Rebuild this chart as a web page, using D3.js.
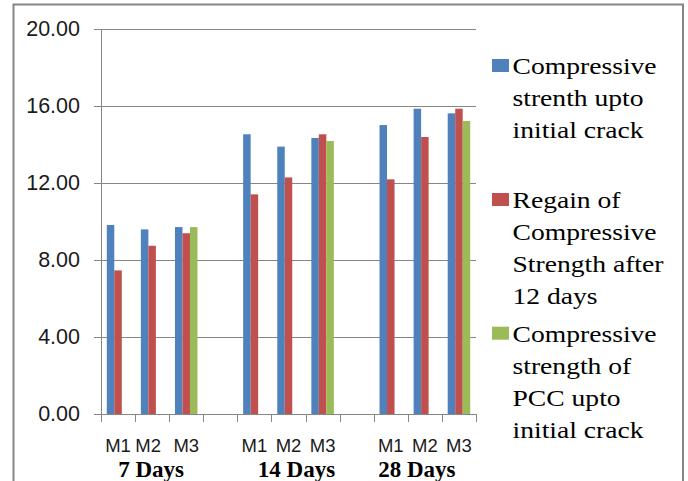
<!DOCTYPE html>
<html>
<head>
<meta charset="utf-8">
<script src="https://cdn.jsdelivr.net/npm/d3@7"></script>
<style>
  html, body { margin: 0; padding: 0; background: #fff; }
  svg { display: block; }
</style>
</head>
<body>
<svg id="chart" width="688" height="481"></svg>
<script>
// Curing ages and mix designations
const ages = ["7 Days", "14 Days", "28 Days"];
const mixes = ["M1", "M2", "M3"];

// Compressive strength values, one entry per age/mix pair (M1..M3 within each age)
const initialCrack = [9.82, 9.59, 9.71, 14.53, 13.89, 14.34, 15.01, 15.86, 15.62];
const regained12Days = [7.46, 8.74, 9.39, 11.41, 12.29, 14.53, 12.19, 14.39, 15.86];
const pccInitialCrack = [null, null, 9.71, null, null, 14.18, null, null, 15.22];

const seriesNames = [
  ["Compressive", "strenth upto", "initial crack"],
  ["Regain of", "Compressive", "Strength after", "12 days"],
  ["Compressive", "strength of", "PCC upto", "initial crack"]
];
const seriesColors = ["#4F81BD", "#C0504D", "#9BBB59"];
const yTicks = [0, 4, 8, 12, 16, 20];

const series = [initialCrack, regained12Days, pccInitialCrack];

// Category slots: three mixes per age, with an empty slot between ages
const slots = [];
ages.forEach((age, a) => {
  mixes.forEach((m, i) => slots.push({ key: age + "|" + m, age, mix: m, idx: a * 3 + i }));
  if (a < ages.length - 1) slots.push({ key: "gap" + a, age: null, mix: null, idx: null });
});

const svg = d3.select("#chart");
const plot = { left: 101, right: 476, top: 29, bottom: 414 };

// Outer chart frame
svg.append("rect")
  .attr("x", 13.5).attr("y", 4.5)
  .attr("width", 683 - 13.5).attr("height", 500)
  .attr("fill", "#fff")
  .attr("stroke", "#868686").attr("stroke-width", 2);

const x = d3.scaleBand()
  .domain(slots.map(d => d.key))
  .range([plot.left, plot.right])
  .paddingInner(0).paddingOuter(0);

const xSeries = d3.scaleBand()
  .domain(d3.range(series.length))
  .range([0, x.bandwidth()])
  .paddingInner(0).paddingOuter(0.773);

const y = d3.scaleLinear().domain([0, 20]).range([plot.bottom, plot.top]);

// Horizontal gridlines and y axis
const yAxis = d3.axisLeft(y)
  .tickValues(yTicks)
  .tickSize(7)
  .tickPadding(14)
  .tickFormat(d3.format(".2f"));

const gy = svg.append("g")
  .attr("transform", `translate(${plot.left},0)`)
  .call(yAxis);
gy.select(".domain").attr("stroke", "#868686");
gy.selectAll(".tick line").attr("stroke", "#868686");
gy.selectAll(".tick text")
  .attr("fill", "#1a1a1a")
  .style("font-family", "'Liberation Sans', Arial, sans-serif")
  .style("font-size", "21.5px");

svg.append("g")
  .selectAll("line")
  .data(yTicks.filter(t => t > 0))
  .join("line")
  .attr("x1", plot.left).attr("x2", plot.right)
  .attr("y1", d => Math.round(y(d)) + 0.5).attr("y2", d => Math.round(y(d)) + 0.5)
  .attr("stroke", "#868686").attr("stroke-width", 1);

// x axis with tick marks at slot boundaries
const gx = svg.append("g")
  .attr("transform", `translate(0,${plot.bottom})`);
gx.append("line")
  .attr("x1", plot.left).attr("x2", plot.right)
  .attr("y1", 0.5).attr("y2", 0.5)
  .attr("stroke", "#868686");
const boundaries = slots.map(d => x(d.key)).concat([plot.right]);
gx.selectAll("line.tk")
  .data(boundaries)
  .join("line")
  .attr("class", "tk")
  .attr("x1", d => Math.round(d) + 0.5).attr("x2", d => Math.round(d) + 0.5)
  .attr("y1", 0).attr("y2", 8)
  .attr("stroke", "#868686");

// Bars
const barData = [];
slots.forEach(s => {
  if (s.idx === null) return;
  series.forEach((vals, k) => {
    const v = vals[s.idx];
    if (v !== null && v !== undefined) barData.push({ slot: s.key, k, v });
  });
});

svg.append("g")
  .selectAll("rect")
  .data(barData)
  .join("rect")
  .attr("x", d => x(d.slot) + xSeries(d.k))
  .attr("width", xSeries.bandwidth())
  .attr("y", d => y(d.v))
  .attr("height", d => y(0) - y(d.v))
  .attr("fill", d => seriesColors[d.k]);

// Category labels (mix) and group labels (age)
const mixNudge = { "7 Days|M2": -4 };
svg.append("g")
  .selectAll("text")
  .data(slots.filter(s => s.mix))
  .join("text")
  .attr("x", d => x(d.key) + x.bandwidth() / 2 + (mixNudge[d.key] || 0))
  .attr("y", 452)
  .attr("text-anchor", "middle")
  .attr("fill", "#1a1a1a")
  .style("font-family", "'Liberation Sans', Arial, sans-serif")
  .style("font-size", "18.5px")
  .text(d => d.mix);

const ageNudge = [-1, 8, -8];
svg.append("g")
  .selectAll("text")
  .data(ages)
  .join("text")
  .attr("x", (d, a) => x(d + "|M2") + x.bandwidth() / 2 + ageNudge[a])
  .attr("y", 477)
  .attr("text-anchor", "middle")
  .attr("fill", "#000")
  .style("font-family", "'Liberation Serif', 'Times New Roman', serif")
  .style("font-weight", "bold")
  .style("font-size", "23px")
  .text(d => d);

// Legend
const legendTop = [74, 208, 341.7];
const legend = svg.append("g");
seriesNames.forEach((lines, k) => {
  const g = legend.append("g");
  g.append("rect")
    .attr("x", 492).attr("y", legendTop[k] - 15)
    .attr("width", 17).attr("height", 13)
    .attr("fill", seriesColors[k]);
  const t = g.append("text")
    .attr("transform", `translate(512.5,${legendTop[k]}) scale(1.15,1)`)
    .attr("fill", "#000")
    .style("font-family", "'Liberation Serif', 'Times New Roman', serif")
    .style("font-size", "24px");
  lines.forEach((ln, i) => {
    t.append("tspan").attr("x", 0).attr("y", i * 32).text(ln);
  });
});
</script>
</body>
</html>
